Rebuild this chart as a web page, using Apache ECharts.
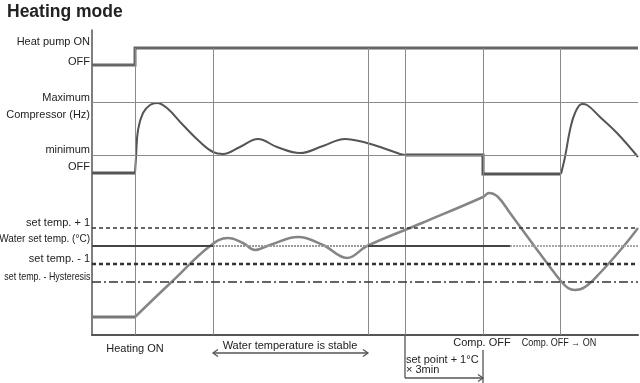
<!DOCTYPE html>
<html><head><meta charset="utf-8">
<script src="https://cdn.jsdelivr.net/npm/echarts@6/dist/echarts.min.js"></script>
<style>html,body{margin:0;padding:0;background:#fff}#c{width:640px;height:383px}</style>
</head><body><div id="c"></div>
<script>
// ---- data (time units on x, level units on y) ----
const TIME_MAX = 546;
const LEVEL_MAX = 305;
const eventTimes = [43, 121, 276, 313, 391, 468];
const eventTop = 287;
const levelLabels = ['Heat pump ON', 'OFF', 'Maximum', 'Compressor (Hz)', 'minimum', 'OFF',
  'set temp. + 1', 'Water set temp. (°C)', 'set temp. - 1', 'set temp. - Hysteresis'];
const levelLabelValues = [293, 273, 237.5, 220.5, 185, 168, 112, 95.5, 76, 58.5];
const compMax = 233, compMin = 180;
const setPlus1 = 107, setTemp = 89, setMinus1 = 71, setHyst = 53;
const heatPump = [[0, 270], [43, 270], [43, 287], [546, 287]];
const compOffStart = [[0, 162], [43, 162]];
const compCurve1 = [[43, 162], [44, 178], [46, 205], [51, 222], [58, 230], [65, 232], [75, 227], [91, 210],
  [108, 193], [121, 183], [131, 181], [148, 188], [166, 196], [185, 188], [208, 182], [231, 189],
  [253, 196], [275, 192], [291, 187], [308, 181], [313, 180]];
const compHold = [[313, 180], [391, 180], [391, 161], [469, 161]];
const compCurve2 = [[469, 161], [473, 178], [478, 205], [483, 222], [490, 231], [495, 230], [508, 218],
  [525, 202], [546, 178]];
const waterStart = [[0, 18], [43, 18]];
const waterCurve = [[43, 18], [80, 53.5], [118, 89], [136, 97], [151, 92], [163, 85], [178, 90], [206, 98],
  [231, 90], [255, 77], [275, 89], [330, 112], [391, 138], [397, 142], [406, 138], [418, 122],
  [443, 88], [458, 68], [468, 55], [476, 47], [483, 45], [493, 48], [508, 62], [531, 88], [546, 107]];

const FONT = '"Liberation Sans", Arial, sans-serif';
const CONDENSED_LABEL = 9; // index of the level label drawn condensed

const chart = echarts.init(document.getElementById('c'));

function ls(data, color, width, smooth, z) {
  return { type: 'line', data: data, smooth: smooth, symbol: 'none', silent: true, animation: false,
    z: z, lineStyle: { color: color, width: width, cap: 'butt', join: 'miter' } };
}
function hline(y, x1, x2, style) {
  return [{ coord: [x1, y], lineStyle: style }, { coord: [x2, y] }];
}

const markData = [];
eventTimes.forEach(t => markData.push([{ coord: [t, eventTop], lineStyle: { color: '#8a8a8a', width: 1, type: 'solid' } }, { coord: [t, 0] }]));
markData.push(hline(compMax, 0, TIME_MAX, { color: '#8a8a8a', width: 1, type: 'solid' }));
markData.push(hline(compMin, 0, TIME_MAX, { color: '#8a8a8a', width: 1, type: 'solid' }));
markData.push(hline(setPlus1, 0, TIME_MAX, { color: '#333', width: 1.6, type: [4, 3] }));
markData.push(hline(setMinus1, 0, TIME_MAX, { color: '#333', width: 2.4, type: [4, 3] }));
markData.push(hline(setHyst, 0, TIME_MAX, { color: '#333', width: 1.5, type: [9, 3, 2, 3] }));
markData.push(hline(setTemp, 0, 121, { color: '#444', width: 2, type: 'solid' }));
markData.push(hline(setTemp, 121, 276, { color: '#9a9a9a', width: 2, type: [2, 1] }));
markData.push(hline(setTemp, 276, 418, { color: '#444', width: 2, type: 'solid' }));
markData.push(hline(setTemp, 418, TIME_MAX, { color: '#a8a8a8', width: 2, type: [2, 1] }));

const option = {
  animation: false,
  backgroundColor: '#fff',
  title: { text: 'Heating mode', left: 7, top: 3, padding: 0,
    textStyle: { fontSize: 17.5, fontWeight: 'bold', color: '#222', fontFamily: FONT } },
  grid: { left: 92, right: 2, top: 30, bottom: 48, containLabel: false, outerBoundsMode: 'none' },
  xAxis: { type: 'value', min: 0, max: TIME_MAX,
    axisLine: { show: true, onZero: false, lineStyle: { color: '#555', width: 2 } },
    axisTick: { show: false }, axisLabel: { show: false }, splitLine: { show: false } },
  yAxis: { type: 'value', min: 0, max: LEVEL_MAX,
    axisLine: { show: true, onZero: false, lineStyle: { color: '#555', width: 1.5 } },
    axisTick: { show: false }, splitLine: { show: false },
    axisLabel: { show: true, customValues: levelLabelValues, margin: 2, color: '#222',
      fontSize: 11, fontFamily: FONT,
      formatter: function (v) {
        const i = levelLabelValues.indexOf(v);
        if (i < 0 || i === CONDENSED_LABEL) return '';
        if (i === 7) return '{w|' + levelLabels[i] + '}';
        return levelLabels[i];
      },
      rich: { w: { fontFamily: FONT, fontSize: 10, color: '#222' } } } },
  series: [
    { type: 'line', data: [], symbol: 'none', silent: true, z: 1,
      markLine: { silent: true, symbol: ['none', 'none'], label: { show: false }, animation: false, data: markData } },
    ls(heatPump, '#666', 3, false, 3),
    ls(compOffStart, '#555', 3, false, 3),
    ls(compCurve1, '#555', 2, 0.4, 3),
    ls(compHold, '#555', 3, false, 3),
    ls(compCurve2, '#555', 2, 0.4, 3),
    ls(waterStart, '#777', 3, false, 4),
    ls(waterCurve, '#858585', 2.5, 0.4, 4)
  ]
};
chart.setOption(option);

function P(x, y) { return chart.convertToPixel({ gridIndex: 0 }, [x, y]); }
const g = [];
const stroke = '#555';
function text(str, at, align, scaleX, dx) {
  const p = P(at[0], at[1]);
  g.push({ type: 'text', x: p[0] + (dx || 0), y: p[1], scaleX: scaleX || 1, silent: true,
    style: { text: str, fill: '#222', fontSize: 11, fontFamily: FONT, align: align || 'center', verticalAlign: 'middle' } });
}
function seg(a, b) {
  const p = P(a[0], a[1]), q = P(b[0], b[1]);
  g.push({ type: 'line', silent: true, shape: { x1: p[0], y1: p[1], x2: q[0], y2: q[1] }, style: { stroke: stroke, lineWidth: 1.3 } });
}
function chevron(at, dir) {
  const p = P(at[0], at[1]);
  const d = dir * 5;
  g.push({ type: 'polyline', silent: true, shape: { points: [[p[0] - d, p[1] - 3.5], [p[0], p[1]], [p[0] - d, p[1] + 3.5]] },
    style: { stroke: stroke, fill: null, lineWidth: 1.3 } });
}
// condensed level label, right-aligned against the y axis like the others
text(levelLabels[CONDENSED_LABEL], [0, levelLabelValues[CONDENSED_LABEL]], 'right', 0.81, -1.5);
text('Heating ON', [43, -14]);
text('Water temperature is stable', [198, -11]);
seg([121, -18], [276, -18]); chevron([121, -18], -1); chevron([276, -18], 1);
seg([313, 0], [313, -43]); seg([313, -43], [391, -43]); chevron([391, -43], 1);
seg([391, -15], [391, -48]);
text('set point + 1°C', [314, -25], 'left');
text('× 3min', [314, -35], 'left');
text('Comp. OFF', [390, -8]);
text('Comp. OFF → ON', [467, -8], 'center', 0.82);
chart.setOption({ graphic: g });
</script>
</body></html>
